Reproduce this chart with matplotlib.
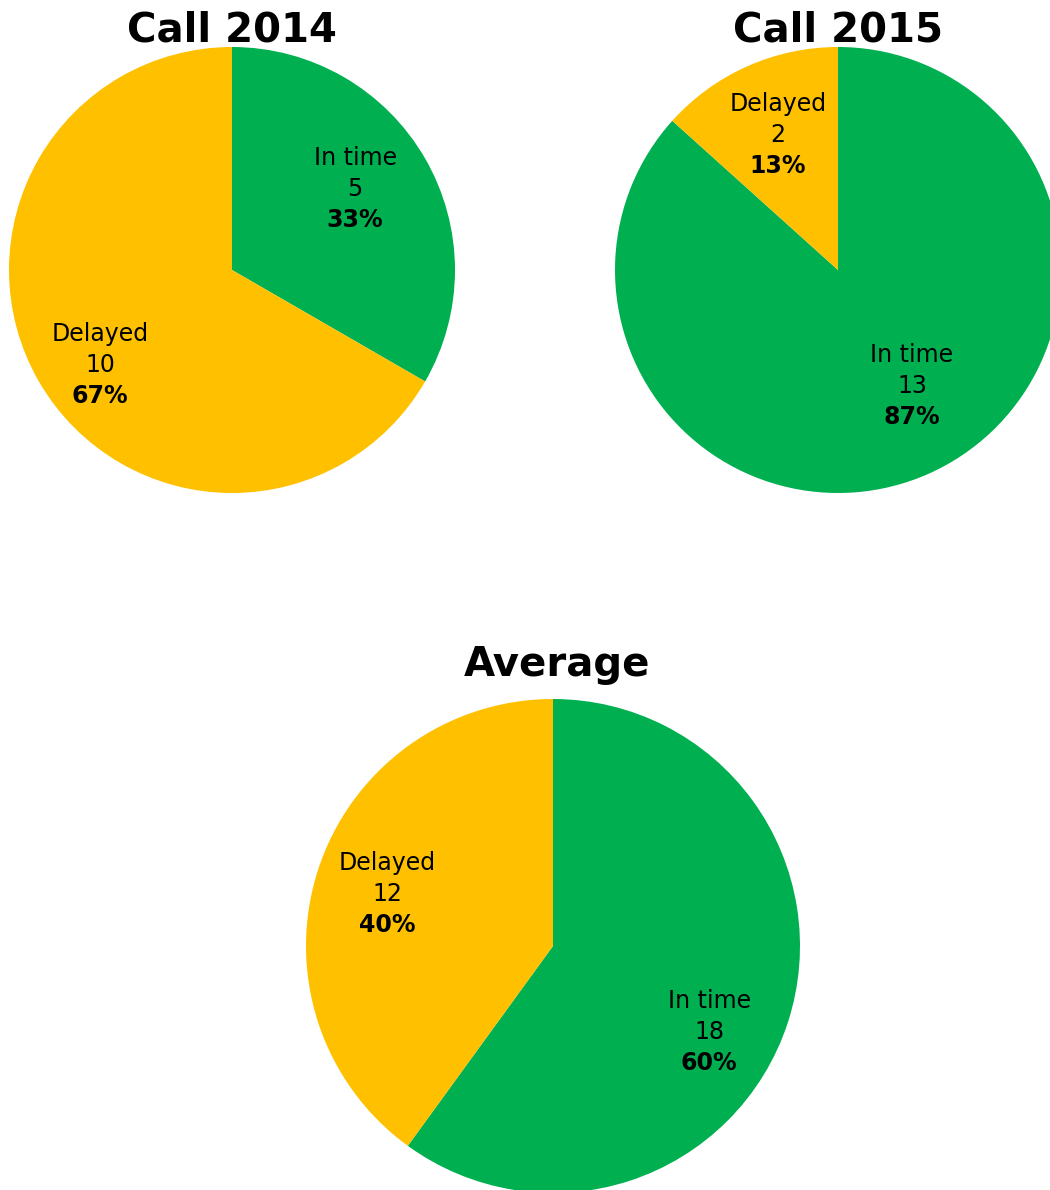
import numpy as np
import matplotlib.pyplot as plt

# data
titles = ['Call 2014', 'Call 2015', 'Average']
labels = ['In time', 'Delayed']
in_time = [5, 13, 18]
delayed = [10, 2, 12]
pcts = [['33%', '67%'], ['87%', '13%'], ['60%', '40%']]

colors = ['#00B050', '#FFC000']

W, H = 1050, 1190
fig = plt.figure(figsize=(W / 100, H / 100), dpi=100)
ax = fig.add_axes([0, 0, 1, 1])

# pie layout in pixels (y measured from top)
centers = [(232, 270), (838, 270), (553, 946)]
radii = [223, 223, 247]
title_pos = [(232, 30), (838, 30), (557, 665)]
# label offsets as fraction of radius (x right, y up)
lab_off = [[(0.552, 0.363), (-0.592, -0.426)],
           [(0.332, -0.520), (-0.269, 0.605)],
           [(0.632, -0.348), (-0.672, 0.211)]]

for i in range(3):
    cx, cy = centers[i]
    cy = H - cy
    r = radii[i]
    vals = [in_time[i], delayed[i]]
    wedges, _ = ax.pie(vals, colors=colors, startangle=90, counterclock=False,
                       center=(cx, cy), radius=r, frame=True,
                       wedgeprops=dict(linewidth=0))
    for j in range(2):
        tx = cx + lab_off[i][j][0] * r
        ty = cy + lab_off[i][j][1] * r
        ax.text(tx, ty + 31, labels[j], ha='center', va='center', fontsize=17)
        ax.text(tx, ty, str(vals[j]), ha='center', va='center', fontsize=17)
        ax.text(tx, ty - 31, pcts[i][j], ha='center', va='center', fontsize=17,
                fontweight='bold')
    tx, ty = title_pos[i]
    ax.text(tx, H - ty, titles[i], ha='center', va='center', fontsize=29,
            fontweight='bold')

ax.set_xlim(0, W)
ax.set_ylim(0, H)
ax.set_aspect('equal')
ax.axis('off')
fig.savefig('out.png', dpi=100)
